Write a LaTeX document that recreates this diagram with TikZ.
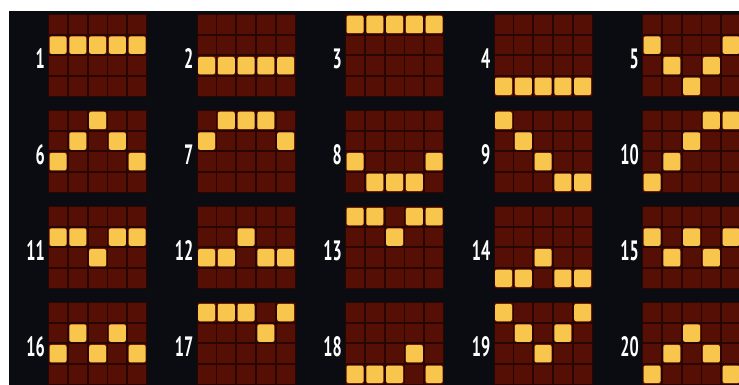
\documentclass[tikz,border=0pt]{standalone}
\usepackage{fontspec}
\setsansfont{PT Sans}
\usetikzlibrary{positioning,calc}
\definecolor{bgdark}{HTML}{0A0C11}
\definecolor{gapred}{HTML}{2A0603}
\definecolor{cellred}{HTML}{560F04}
\definecolor{lampyellow}{HTML}{F8C64C}

\begin{document}
\begin{tikzpicture}[x=1pt, y=-1pt,
    cell/.style={fill=cellred, minimum width=18pt, minimum height=18.5pt, inner sep=0pt},
    lamp/.style={fill=lampyellow, rounded corners=2pt, minimum width=17pt, minimum height=17.5pt, inner sep=0pt},
    linenum/.style={text=white, font=\sffamily\bfseries\fontsize{28}{28}\selectfont, xscale=0.58, inner sep=0pt, anchor=east}]
    \useasboundingbox (0,0) rectangle (739,385);
    \fill[white] (0,0) rectangle (739,385);
    \fill[bgdark] (9,11) rectangle (739,385);
    \begin{scope}
        \clip (9,11) rectangle (739,385);
        % line number / row of the lit lamp in each of the five reels
        \foreach \n/\ra/\rb/\rc/\rd/\re in {1/1/1/1/1/1, 2/2/2/2/2/2, 3/0/0/0/0/0, 4/3/3/3/3/3, 5/1/2/3/2/1,
                6/2/1/0/1/2, 7/1/0/0/0/1, 8/2/3/3/3/2, 9/0/1/2/3/3, 10/3/2/1/0/0,
                11/1/1/2/1/1, 12/2/2/1/2/2, 13/0/0/1/0/0, 14/3/3/2/3/3, 15/1/2/1/2/1,
                16/2/1/2/1/2, 17/0/0/0/1/0, 18/3/3/3/2/3, 19/0/1/2/1/0, 20/3/2/1/2/3}{
            \pgfmathtruncatemacro{\pcol}{mod(\n-1,5)}
            \pgfmathtruncatemacro{\prow}{int((\n-1)/5)}
            \pgfmathsetmacro{\gx}{48+148.5*\pcol}
            \pgfmathsetmacro{\gy}{14+96*\prow}
            \fill[gapred] (\gx,\gy) rectangle ++(99,83);
            \foreach \col in {0,...,4}
                \foreach \row in {0,...,3}
                    \node[cell] (c\n-\col-\row) at (\gx+10+19.8*\col, \gy+10.5+20.6*\row) {};
            \node[linenum] (num\n) at (\gx-3, \gy+45) {\n};
            \foreach \col/\row in {0/\ra, 1/\rb, 2/\rc, 3/\rd, 4/\re}
                \node[lamp] (lamp\n-\col) at (c\n-\col-\row) {};
        }
    \end{scope}
\end{tikzpicture}
\end{document}
